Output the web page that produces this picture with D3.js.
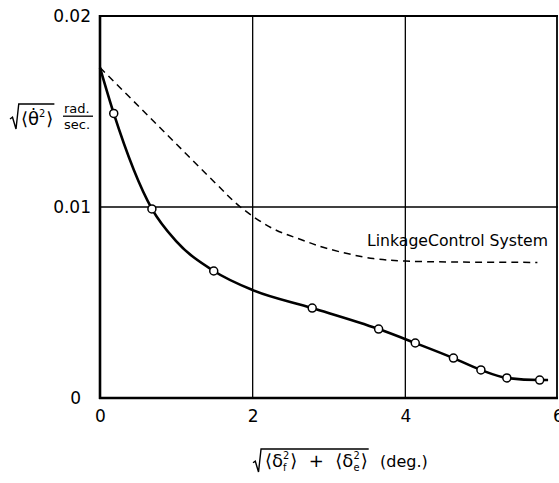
<!DOCTYPE html>
<html>
<head>
<meta charset="utf-8">
<script src="https://cdn.jsdelivr.net/npm/d3@7"></script>
<style>
  body { margin: 0; background: #fff; }
  svg { display: block; font-family: "DejaVu Sans", sans-serif; }
</style>
</head>
<body>
<figure style="margin:0"></figure>
<script>
// tick values
const xTicks = [0, 2, 4, 6];
const yTicks = [0, 0.01, 0.02];

// measured points (open circles)
const measX = [0.18, 0.68, 1.49, 2.78, 3.65, 4.13, 4.63, 4.99, 5.33, 5.76];
const measY = [0.0149, 0.0099, 0.00665, 0.00471, 0.00361, 0.00288, 0.00209, 0.00147, 0.00105, 0.00094];

// faired solid curve
const fitX = [0, 0.18, 0.68, 1.0, 1.49, 2.0, 2.78, 3.65, 4.13, 4.63, 4.99, 5.33, 5.76, 5.87];
const fitY = [0.0173, 0.0149, 0.0099, 0.0082, 0.00665, 0.00565, 0.00471, 0.00361, 0.00288, 0.00209, 0.00147, 0.00105, 0.00094, 0.00094];

// linkage control system (dashed)
const linkX = [0, 0.5, 1.0, 1.5, 1.84, 2.25, 2.63, 3.0, 3.58, 4.0, 4.6, 5.73];
const linkY = [0.0173, 0.0153, 0.0133, 0.0113, 0.0100, 0.0089, 0.0083, 0.0078, 0.0073, 0.00717, 0.00712, 0.0071];

(() => {
  const totalWidth = 559;
  const totalHeight = 483;
  const margin = {top: 16, right: 1, bottom: 85, left: 100};
  const graphWidth = totalWidth - margin.left - margin.right;
  const graphHeight = totalHeight - margin.top - margin.bottom;

  const svg = d3.select('figure').append('svg')
    .attr('width', totalWidth)
    .attr('height', totalHeight);

  const g = svg.append('g').attr('transform', 'translate(' + margin.left + ',' + margin.top + ')');

  const x = d3.scaleLinear().domain([0, 6]).range([0, graphWidth]);
  const y = d3.scaleLinear().domain([0, 0.02]).range([graphHeight, 0]);

  // grid lines
  g.append('g').selectAll('line.v')
    .data([2, 4])
    .join('line')
      .attr('x1', d => x(d)).attr('x2', d => x(d))
      .attr('y1', 0).attr('y2', graphHeight)
      .attr('stroke', '#000').attr('stroke-width', 1.3);
  g.append('line')
    .attr('x1', 0).attr('x2', graphWidth)
    .attr('y1', y(0.01)).attr('y2', y(0.01))
    .attr('stroke', '#000').attr('stroke-width', 1.3);

  // frame
  g.append('line').attr('x1', 0).attr('x2', graphWidth).attr('y1', 0).attr('y2', 0)
    .attr('stroke', '#000').attr('stroke-width', 2);
  g.append('line').attr('x1', graphWidth - 1).attr('x2', graphWidth - 1).attr('y1', 0).attr('y2', graphHeight)
    .attr('stroke', '#000').attr('stroke-width', 1.8);
  g.append('line').attr('x1', 0).attr('x2', 0).attr('y1', -1).attr('y2', graphHeight + 1)
    .attr('stroke', '#000').attr('stroke-width', 2.6);
  g.append('line').attr('x1', -1).attr('x2', graphWidth).attr('y1', graphHeight).attr('y2', graphHeight)
    .attr('stroke', '#000').attr('stroke-width', 2.6);

  // axes (labels only)
  const xAxis = g.append('g')
      .attr('transform', 'translate(0,' + graphHeight + ')')
      .call(d3.axisBottom(x).tickValues(xTicks).tickSize(0).tickPadding(12).tickFormat(d3.format('d')));
  xAxis.select('.domain').remove();
  xAxis.selectAll('text').attr('font-size', 17).attr('font-family', '"DejaVu Sans", sans-serif').attr('fill', '#000');

  const yAxis = g.append('g')
      .call(d3.axisLeft(y).tickValues(yTicks).tickSize(0).tickPadding(9)
        .tickFormat(d => d === 0 ? '0' : d3.format('.2f')(d)));
  yAxis.select('.domain').remove();
  yAxis.selectAll('text').attr('font-size', 17).attr('font-family', '"DejaVu Sans", sans-serif').attr('fill', '#000')
    .attr('dx', d => d === 0 ? -10 : 0);

  // curves
  const line = d3.line()
    .x(d => x(d[0]))
    .y(d => y(d[1]))
    .curve(d3.curveCatmullRom.alpha(0.5));

  g.append('path')
    .datum(linkX.map((v, i) => [v, linkY[i]]))
    .attr('fill', 'none')
    .attr('stroke', '#000')
    .attr('stroke-width', 1.5)
    .attr('stroke-dasharray', '7,5')
    .attr('d', line);

  g.append('path')
    .datum(fitX.map((v, i) => [v, fitY[i]]))
    .attr('fill', 'none')
    .attr('stroke', '#000')
    .attr('stroke-width', 2.6)
    .attr('d', line.curve(d3.curveMonotoneX));

  g.selectAll('circle.m')
    .data(measX.map((v, i) => [v, measY[i]]))
    .join('circle')
      .attr('cx', d => x(d[0]))
      .attr('cy', d => y(d[1]))
      .attr('r', 4)
      .attr('fill', '#fff')
      .attr('stroke', '#000')
      .attr('stroke-width', 1.5);

  // curve label
  svg.append('text')
    .attr('x', 367).attr('y', 246)
    .attr('font-size', 16)
    .attr('textLength', 181)
    .attr('lengthAdjust', 'spacingAndGlyphs')
    .text('LinkageControl System');

  // lay out pieces as separate texts; sup/sub pairs are stacked
  function run(parent, x0, base, size, pieces) {
    let cx = x0;
    pieces.forEach(p => {
      if (typeof p === 'string') {
        const t = parent.append('text').attr('x', cx).attr('y', base).attr('font-size', size).text(p);
        cx += t.node().getComputedTextLength();
      } else {
        let w = 0;
        if (p.sup) {
          const t = parent.append('text').attr('x', cx).attr('y', base - size * 0.45)
            .attr('font-size', size * 0.55).text(p.sup);
          w = Math.max(w, t.node().getComputedTextLength());
        }
        if (p.sub) {
          const t = parent.append('text').attr('x', cx).attr('y', base + size * 0.2)
            .attr('font-size', size * 0.55).text(p.sub);
          w = Math.max(w, t.node().getComputedTextLength());
        }
        cx += w + 1;
      }
    });
    return cx;
  }

  function radical(parent, x0, top, bottom, xEnd) {
    const h = bottom - top;
    const xs = x0 + 0.35 * h;
    parent.append('path')
      .attr('fill', 'none')
      .attr('stroke', '#000')
      .attr('stroke-width', 1.4)
      .attr('d', 'M' + x0 + ',' + (top + 0.6 * h) +
                 'L' + (x0 + 0.1 * h) + ',' + (top + 0.53 * h) +
                 'L' + (x0 + 0.24 * h) + ',' + bottom +
                 'L' + xs + ',' + top +
                 'L' + (xEnd + 1) + ',' + top);
  }

  // y label
  const yl = svg.append('g');
  const yEnd = run(yl, 21, 125, 18, ['\u27E8\u03B8\u0307', {sup: '2'}, '\u27E9']);
  radical(yl, 10, 104, 129, yEnd);
  yl.append('text').attr('x', 64).attr('y', 113).attr('font-size', 13).text('rad.');
  yl.append('line').attr('x1', 63).attr('x2', 93).attr('y1', 116.2).attr('y2', 116.2)
    .attr('stroke', '#000').attr('stroke-width', 1.3);
  yl.append('text').attr('x', 64).attr('y', 128.6).attr('font-size', 13).text('sec.');

  // x label
  const xl = svg.append('g');
  const xEnd = run(xl, 265, 467, 18,
    ['\u27E8\u03B4', {sup: '2', sub: 'f'}, '\u27E9 \u00A0+ \u00A0\u27E8\u03B4', {sup: '2', sub: 'e'}, '\u27E9']);
  radical(xl, 253, 449, 472, xEnd);
  xl.append('text').attr('x', 380).attr('y', 467).attr('font-size', 16).text('(deg.)');
})();
</script>
</body>
</html>
